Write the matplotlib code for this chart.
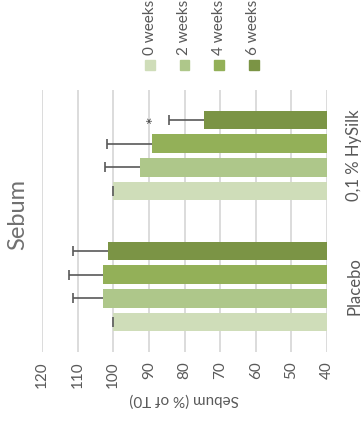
import matplotlib.pyplot as plt
import numpy as np

plt.rcParams['font.family'] = ['Lato', 'DejaVu Sans']

# Sebum values (% of T0) per product and timepoint
groups = ['Placebo', '0,1 % HySilk']
weeks = ['0 weeks', '2 weeks', '4 weeks', '6 weeks']
placebo = [100, 103.0, 103.0, 101.6]
placebo_err = [0, 8.3, 9.3, 9.7]
hysilk = [100, 92.4, 89.0, 74.6]
hysilk_err = [0, 9.8, 12.8, 9.7]
colors = ['#cfddb9', '#aec78a', '#93b058', '#7b9445']
xticks = [40, 50, 60, 70, 80, 90, 100, 110, 120]

values = np.array([placebo, hysilk])
errors = np.array([placebo_err, hysilk_err])

fig = plt.figure(figsize=(3.61, 4.36), dpi=100)
ax = fig.add_axes([42 / 361, 84 / 436, 285 / 361, 262 / 436])

pitch = 0.182
height = 0.141
txt = '#595959'

for i, w in enumerate(weeks):
    ypos = np.arange(len(groups)) + (i - 1.5) * pitch
    ax.barh(ypos, values[:, i] - 40, left=40, height=height, color=colors[i],
            zorder=2)
    eb = ax.errorbar(values[:, i], ypos,
                     xerr=[np.zeros(len(groups)), errors[:, i]],
                     fmt='none', ecolor=txt, elinewidth=1.2, capsize=3.5,
                     capthick=1.2, zorder=3)
    # only keep the cap at the far end of each bar
    eb[1][0].set_visible(False)

# significance marker on HySilk at 6 weeks
y6 = 1 + 1.5 * pitch
ax.text(hysilk[3] + hysilk_err[3] + 4.3, y6, '*', rotation=90, ha='center',
        va='center', color='#404040', fontsize=13)

ax.set_xlim(120, 40)
ax.set_ylim(-0.5, 1.5)
ax.set_xticks(xticks)
ax.set_xticklabels([str(t) for t in xticks], rotation=90, color=txt, fontsize=11)
ax.set_yticks(range(len(groups)))
ax.set_yticklabels(groups, rotation=90, va='center', color=txt, fontsize=12)
ax.yaxis.tick_right()
ax.tick_params(length=0, pad=7)
ax.tick_params(axis='y', pad=14)
ax.grid(axis='x', color='#d9d9d9', linewidth=1.3, zorder=0)
ax.set_axisbelow(True)
for s in ax.spines.values():
    s.set_visible(False)

ax.set_xlabel('Sebum (% of T0)', rotation=180, color=txt, fontsize=11, labelpad=3)

fig.text(18 / 361, 1 - 214 / 436, 'Sebum', rotation=90, ha='center',
         va='center', color='#707070', fontsize=17)

# legend laid out along the top
for i, w in enumerate(weeks):
    xc = (150 + i * 34.5) / 361
    fig.patches.append(plt.Rectangle((xc - 5 / 361, 1 - 70 / 436), 10 / 361,
                                     10 / 436, transform=fig.transFigure,
                                     color=colors[i], figure=fig))
    fig.text(xc, 1 - 55 / 436, w, rotation=90, ha='center', va='bottom',
             color=txt, fontsize=11)

fig.savefig('out.png', dpi=100)
